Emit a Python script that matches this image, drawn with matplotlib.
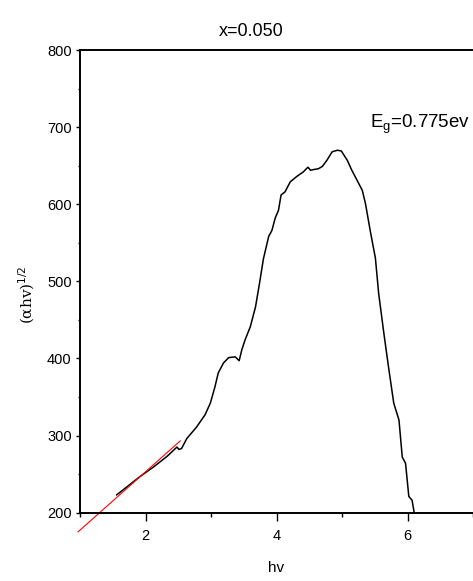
import matplotlib.pyplot as plt
from matplotlib.ticker import MultipleLocator

# curve: photon energy hv vs (alpha*hv)^1/2
hv = [1.56, 1.71, 1.92, 2.12, 2.33, 2.43, 2.48, 2.51, 2.55, 2.63, 2.78, 2.91,
      2.99, 3.06, 3.11, 3.19, 3.27, 3.37, 3.43, 3.47, 3.52, 3.60, 3.68, 3.74,
      3.80, 3.88, 3.93, 3.98, 4.03, 4.07, 4.13, 4.21, 4.31, 4.41, 4.48, 4.52,
      4.57, 4.64, 4.70, 4.77, 4.85, 4.93, 4.99, 5.08, 5.15, 5.23, 5.31, 5.36,
      5.43, 5.51, 5.56, 5.64, 5.71, 5.79, 5.87, 5.92, 5.97, 6.02, 6.07, 6.10]
ahv = [223, 233, 247, 259, 273, 281, 285, 282, 283, 296, 311, 327,
       342, 363, 381, 394, 401, 402, 397, 411, 424, 441, 467, 497,
       529, 558, 566, 582, 592, 612, 616, 629, 636, 642, 648, 644,
       645, 646, 649, 657, 668, 670, 669, 657, 644, 631, 618, 600,
       566, 530, 484, 432, 389, 342, 320, 272, 264, 221, 216, 201]

# fitted tangent line (red)
fit_x = [0.97, 2.53]
fit_y = [175, 293]

plt.rcParams['font.family'] = ['Liberation Sans', 'DejaVu Sans']

fig = plt.figure(figsize=(4.73, 5.81), dpi=100)
ax = fig.add_axes([80 / 473, 1 - 512.6 / 581, 1 - 80 / 473, (512.6 - 50) / 581])

ax.plot(hv, ahv, color='black', lw=1.1)
ax.plot(fit_x, fit_y, color='red', lw=0.8, clip_on=False)

ax.set_xlim(1, 7)
ax.set_ylim(200, 800)
ax.xaxis.set_major_locator(MultipleLocator(2))
ax.xaxis.set_minor_locator(MultipleLocator(1))
ax.yaxis.set_major_locator(MultipleLocator(100))
ax.yaxis.set_minor_locator(MultipleLocator(50))
ax.set_xticks([2, 4, 6])
ax.tick_params(axis='x', which='major', length=5.5, width=1, labelsize=10.5, pad=6)
ax.tick_params(axis='x', which='minor', length=3, width=1)
ax.tick_params(axis='y', which='major', length=3, width=1, labelsize=10.5, pad=3)
ax.tick_params(axis='y', which='minor', length=1.8, width=1)

for s in ['left', 'bottom', 'top']:
    ax.spines[s].set_linewidth(1.4)
ax.spines['right'].set_visible(False)

ax.set_xlabel('hv', fontsize=11, labelpad=13)
fig.text(27 / 473, 1 - 295 / 581, '(\u03b1hv)$^{1/2}$', rotation=90,
         ha='center', va='center', fontsize=11, family='DejaVu Serif')

fig.text(251 / 473, 1 - 31 / 581, 'x=0.050', ha='center', va='center', fontsize=13)
fig.text(370 / 473, 1 - 124 / 581, r'E$_\mathregular{g}$=0.775ev', ha='left',
         va='center', fontsize=13.5)

fig.savefig('out.png', dpi=100)
